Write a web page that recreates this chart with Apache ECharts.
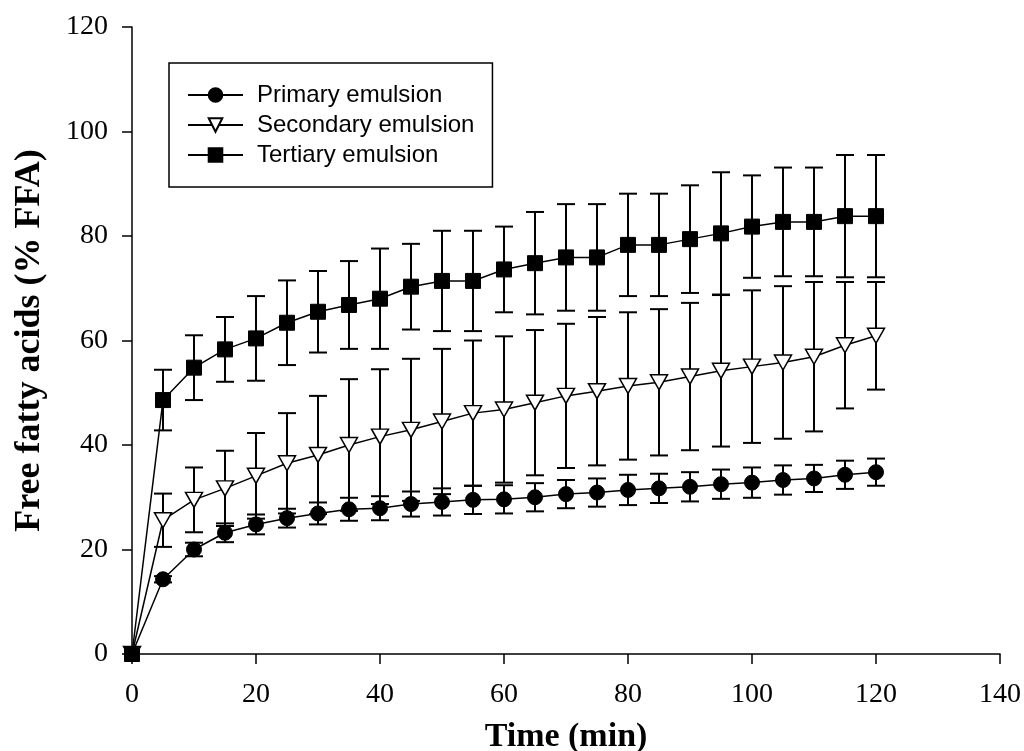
<!DOCTYPE html>
<html>
<head>
<meta charset="utf-8">
<script src="https://cdn.jsdelivr.net/npm/echarts@6/dist/echarts.min.js"></script>
<style>
  html, body { margin: 0; padding: 0; background: #fff; }
  #chart { width: 1024px; height: 751px; }
</style>
</head>
<body>
<div id="chart"></div>
<script>
// time points (min)
var times = [0, 5, 10, 15, 20, 25, 30, 35, 40, 45, 50, 55, 60, 65, 70, 75, 80, 85, 90, 95, 100, 105, 110, 115, 120];

var primary = [0, 14.3, 20.0, 23.2, 24.8, 26.0, 26.9, 27.7, 27.9, 28.7, 29.1, 29.5, 29.6, 30.0, 30.6, 30.9, 31.4, 31.7, 32.0, 32.5, 32.8, 33.3, 33.6, 34.3, 34.8];
var primaryErr = [0, 0.6, 1.3, 1.8, 1.9, 1.8, 2.1, 2.2, 2.3, 2.4, 2.6, 2.7, 2.7, 2.7, 2.7, 2.7, 2.9, 2.8, 2.8, 2.8, 2.9, 2.8, 2.6, 2.7, 2.6];

var secondary = [0, 25.6, 29.5, 31.7, 34.1, 36.5, 38.1, 40.0, 41.6, 42.9, 44.5, 46.1, 46.8, 48.1, 49.4, 50.3, 51.3, 52.0, 53.1, 54.2, 55.0, 55.8, 56.9, 59.1, 60.9];
var secondaryErr = [0, 5.1, 6.2, 7.2, 8.2, 9.6, 11.3, 12.6, 12.9, 13.6, 13.9, 13.9, 14.0, 13.9, 13.8, 14.2, 14.1, 14.0, 14.1, 14.5, 14.6, 14.6, 14.3, 12.1, 10.3];

var tertiary = [0, 48.6, 54.8, 58.3, 60.4, 63.4, 65.5, 66.8, 68.0, 70.3, 71.4, 71.4, 73.6, 74.8, 75.9, 75.9, 78.3, 78.3, 79.4, 80.5, 81.8, 82.7, 82.7, 83.8, 83.8];
var tertiaryErr = [0, 5.8, 6.2, 6.2, 8.1, 8.1, 7.8, 8.4, 9.6, 8.2, 9.6, 9.6, 8.2, 9.8, 10.2, 10.2, 9.8, 9.8, 10.3, 11.7, 9.8, 10.4, 10.4, 11.7, 11.7];

var seriesNames = ['Primary emulsion', 'Secondary emulsion', 'Tertiary emulsion'];

function pairs(vals) {
    return times.map(function (t, i) { return [t, vals[i]]; });
}
function errData(vals, errs) {
    var out = [];
    times.forEach(function (t, i) {
        if (errs[i] > 0) out.push([t, vals[i] - errs[i], vals[i] + errs[i]]);
    });
    return out;
}
function errorBars(params, api) {
    var x = api.value(0);
    var top = api.coord([x, api.value(2)]);
    var bot = api.coord([x, api.value(1)]);
    var hw = 9;
    var st = { stroke: '#000', lineWidth: 2 };
    return {
        type: 'group',
        children: [
            { type: 'line', shape: { x1: top[0], y1: top[1], x2: bot[0], y2: bot[1] }, style: st },
            { type: 'line', shape: { x1: top[0] - hw, y1: top[1], x2: top[0] + hw, y2: top[1] }, style: st },
            { type: 'line', shape: { x1: bot[0] - hw, y1: bot[1], x2: bot[0] + hw, y2: bot[1] }, style: st }
        ]
    };
}

var axisFont = { fontFamily: 'Liberation Serif', fontSize: 28, color: '#000' };
var axisLine = { show: true, lineStyle: { color: '#000', width: 1.5 } };
var axisTick = { show: true, inside: false, length: 10, lineStyle: { color: '#000', width: 1.5 } };

var option = {
    backgroundColor: '#fff',
    animation: false,
    grid: { left: 132, right: 24, top: 27, bottom: 97, containLabel: false, outerBoundsMode: 'none' },
    legend: {
        data: seriesNames,
        orient: 'vertical',
        left: 169,
        top: 63,
        padding: [20, 18, 20, 18],
        itemGap: 6,
        itemWidth: 55,
        itemHeight: 17,
        borderColor: '#000',
        borderWidth: 1.5,
        textStyle: { fontFamily: 'Liberation Sans', fontSize: 24, color: '#000', padding: [0, 0, 0, 9] }
    },
    xAxis: {
        type: 'value',
        min: 0, max: 140, interval: 20,
        name: 'Time (min)',
        nameLocation: 'middle',
        nameGap: 66,
        nameTextStyle: { fontFamily: 'Liberation Serif', fontSize: 34, fontWeight: 'bold', color: '#000' },
        axisLine: axisLine,
        axisTick: axisTick,
        axisLabel: Object.assign({ margin: 27 }, axisFont),
        splitLine: { show: false }
    },
    yAxis: {
        type: 'value',
        min: 0, max: 120, interval: 20,
        name: 'Free fatty acids (% FFA)',
        nameLocation: 'middle',
        nameGap: 84,
        nameTextStyle: { fontFamily: 'Liberation Serif', fontSize: 36, fontWeight: 'bold', color: '#000' },
        axisLine: axisLine,
        axisTick: axisTick,
        axisLabel: Object.assign({ margin: 24 }, axisFont),
        splitLine: { show: false }
    },
    series: [
        { type: 'custom', name: 'err1', renderItem: errorBars, data: errData(primary, primaryErr), z: 1, silent: true },
        { type: 'custom', name: 'err2', renderItem: errorBars, data: errData(secondary, secondaryErr), z: 1, silent: true },
        { type: 'custom', name: 'err3', renderItem: errorBars, data: errData(tertiary, tertiaryErr), z: 1, silent: true },
        {
            name: seriesNames[0], type: 'line', data: pairs(primary), z: 3,
            symbol: 'circle', symbolSize: 15, showAllSymbol: true,
            lineStyle: { color: '#000', width: 1.5 },
            itemStyle: { color: '#000', borderColor: '#000', borderWidth: 1 }
        },
        {
            name: seriesNames[1], type: 'line', data: pairs(secondary), z: 4,
            symbol: 'triangle', symbolRotate: 180, symbolSize: [17, 15], showAllSymbol: true,
            lineStyle: { color: '#000', width: 1.5 },
            itemStyle: { color: '#fff', borderColor: '#000', borderWidth: 1.5 }
        },
        {
            name: seriesNames[2], type: 'line', data: pairs(tertiary), z: 5,
            symbol: 'rect', symbolSize: 15, showAllSymbol: true,
            lineStyle: { color: '#000', width: 1.5 },
            itemStyle: { color: '#000', borderColor: '#000', borderWidth: 1 }
        }
    ]
};

var chart = echarts.init(document.getElementById('chart'));
chart.setOption(option);
</script>
</body>
</html>
